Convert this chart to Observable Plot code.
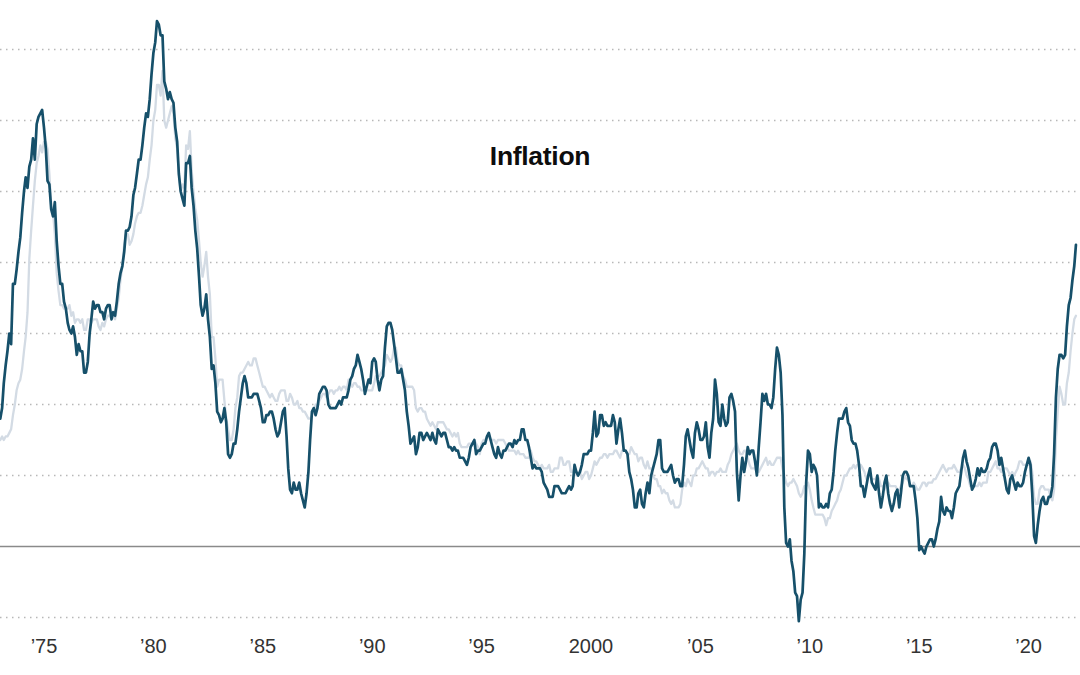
<!DOCTYPE html>
<html>
<head>
<meta charset="utf-8">
<script src="https://cdn.jsdelivr.net/npm/d3@7"></script>
<script src="https://cdn.jsdelivr.net/npm/@observablehq/plot@0.6"></script>
<style>
  html, body { margin: 0; padding: 0; background: #fff; }
  #wrap { position: relative; width: 1080px; height: 675px; overflow: hidden; }
  #title { position: absolute; left: 0; width: 1080px; top: 141px; text-align: center;
           font: 700 26.5px "Liberation Sans", Arial, sans-serif; color: #0d0d0d; letter-spacing: -0.3px; }
</style>
</head>
<body>
<div id="wrap">
  <div id="chart"></div>
  <div id="title">Inflation</div>
</div>
<script>
// Monthly year-over-year CPI change, Jan 1973 – Mar 2022 (percent)
const startYear = 1973;
const headline = [
  3.6, 3.9, 4.6, 5.1, 5.5, 6.0, 5.7, 7.4, 7.4, 7.8, 8.3, 8.7,      // 1973
  9.4, 10.0, 10.4, 10.1, 10.7, 10.9, 11.5, 10.9, 11.9, 12.1, 12.2, 12.3, // 1974
  11.8, 11.2, 10.3, 10.2, 9.5, 9.3, 9.7, 8.6, 7.9, 7.4, 7.4, 6.9,  // 1975
  6.7, 6.3, 6.1, 6.0, 6.2, 5.9, 5.4, 5.7, 5.5, 5.5, 4.9, 4.9,      // 1976
  5.2, 6.0, 6.4, 6.9, 6.7, 6.8, 6.8, 6.6, 6.6, 6.4, 6.7, 6.8,      // 1977
  6.8, 6.4, 6.6, 6.5, 6.9, 7.4, 7.7, 7.9, 8.3, 8.9, 8.9, 9.0,      // 1978
  9.3, 9.9, 10.1, 10.5, 10.9, 10.9, 11.3, 11.8, 12.2, 12.1, 12.6, 13.3, // 1979
  13.9, 14.2, 14.8, 14.7, 14.4, 14.4, 13.1, 12.9, 12.6, 12.8, 12.6, 12.5, // 1980
  11.8, 11.4, 10.5, 10.0, 9.8, 9.6, 10.8, 10.8, 11.0, 10.1, 9.6, 8.9, // 1981
  8.4, 7.6, 6.8, 6.5, 6.7, 7.1, 6.4, 5.9, 5.0, 5.1, 4.6, 3.8,      // 1982
  3.7, 3.5, 3.6, 3.9, 3.5, 2.6, 2.5, 2.6, 2.9, 2.9, 3.3, 3.8,      // 1983
  4.2, 4.6, 4.8, 4.6, 4.2, 4.2, 4.2, 4.3, 4.3, 4.3, 4.1, 3.9,      // 1984
  3.5, 3.5, 3.7, 3.7, 3.8, 3.8, 3.6, 3.3, 3.1, 3.2, 3.5, 3.8,      // 1985
  3.9, 3.1, 2.2, 1.6, 1.5, 1.8, 1.6, 1.6, 1.8, 1.5, 1.3, 1.1,      // 1986
  1.5, 2.1, 3.0, 3.8, 3.9, 3.7, 3.9, 4.3, 4.4, 4.5, 4.5, 4.4,      // 1987
  4.0, 3.9, 3.9, 3.9, 3.9, 4.0, 4.1, 4.0, 4.2, 4.2, 4.2, 4.4,      // 1988
  4.7, 4.8, 5.0, 5.1, 5.4, 5.2, 5.0, 4.7, 4.3, 4.5, 4.7, 4.6,      // 1989
  5.2, 5.3, 5.2, 4.7, 4.4, 4.7, 4.8, 5.6, 6.2, 6.3, 6.3, 6.1,      // 1990
  5.7, 5.3, 4.9, 4.9, 5.0, 4.7, 4.4, 3.8, 3.4, 2.9, 3.0, 3.1,      // 1991
  2.6, 2.8, 3.2, 3.2, 3.0, 3.1, 3.2, 3.1, 3.0, 3.2, 3.0, 2.9,      // 1992
  3.3, 3.2, 3.1, 3.2, 3.2, 3.0, 2.8, 2.8, 2.7, 2.8, 2.7, 2.7,      // 1993
  2.5, 2.5, 2.5, 2.4, 2.3, 2.5, 2.8, 2.9, 3.0, 2.6, 2.7, 2.7,      // 1994
  2.8, 2.9, 2.9, 3.1, 3.2, 3.0, 2.8, 2.6, 2.5, 2.8, 2.6, 2.5,      // 1995
  2.7, 2.7, 2.8, 2.9, 2.9, 2.8, 3.0, 2.9, 3.0, 3.0, 3.3, 3.3,      // 1996
  3.0, 3.0, 2.8, 2.5, 2.2, 2.3, 2.2, 2.2, 2.2, 2.1, 1.8, 1.7,      // 1997
  1.6, 1.4, 1.4, 1.4, 1.7, 1.7, 1.7, 1.6, 1.5, 1.5, 1.5, 1.6,      // 1998
  1.7, 1.6, 1.7, 2.3, 2.1, 2.0, 2.1, 2.3, 2.6, 2.6, 2.6, 2.7,      // 1999
  2.7, 3.2, 3.8, 3.1, 3.2, 3.7, 3.7, 3.4, 3.5, 3.4, 3.4, 3.4,      // 2000
  3.7, 3.5, 2.9, 3.3, 3.6, 3.2, 2.7, 2.7, 2.6, 2.1, 1.9, 1.6,      // 2001
  1.1, 1.1, 1.5, 1.6, 1.2, 1.1, 1.5, 1.8, 1.5, 2.0, 2.2, 2.4,      // 2002
  2.6, 3.0, 3.0, 2.2, 2.1, 2.1, 2.1, 2.2, 2.3, 2.0, 1.8, 1.9,      // 2003
  1.9, 1.7, 1.7, 2.3, 3.1, 3.3, 3.0, 2.7, 2.5, 3.2, 3.5, 3.3,      // 2004
  3.0, 3.0, 3.1, 3.5, 2.8, 2.5, 3.2, 3.6, 4.7, 4.3, 3.5, 3.4,      // 2005
  4.0, 3.6, 3.4, 3.5, 4.2, 4.3, 4.1, 3.8, 2.1, 1.3, 2.0, 2.5,      // 2006
  2.1, 2.4, 2.8, 2.6, 2.7, 2.7, 2.4, 2.0, 2.8, 3.5, 4.3, 4.1,      // 2007
  4.3, 4.0, 4.0, 3.9, 4.2, 5.0, 5.6, 5.4, 4.9, 3.7, 1.1, 0.1,      // 2008
  0.0, 0.2, -0.4, -0.7, -1.3, -1.4, -2.1, -1.5, -1.3, -0.2, 1.8, 2.7, // 2009
  2.6, 2.1, 2.3, 2.2, 2.0, 1.1, 1.2, 1.1, 1.1, 1.2, 1.1, 1.5,      // 2010
  1.6, 2.1, 2.7, 3.2, 3.6, 3.6, 3.6, 3.8, 3.9, 3.5, 3.4, 3.0,      // 2011
  2.9, 2.9, 2.7, 2.3, 1.7, 1.7, 1.4, 1.7, 2.0, 2.2, 1.8, 1.7,      // 2012
  1.6, 2.0, 1.5, 1.1, 1.4, 1.8, 2.0, 1.5, 1.2, 1.0, 1.2, 1.5,      // 2013
  1.6, 1.1, 1.5, 2.0, 2.1, 2.1, 2.0, 1.7, 1.7, 1.7, 1.3, 0.8,      // 2014
  -0.1, 0.0, -0.1, -0.2, 0.0, 0.1, 0.2, 0.2, 0.0, 0.2, 0.5, 0.7,  // 2015
  1.4, 1.0, 0.9, 1.1, 1.0, 1.0, 0.8, 1.1, 1.5, 1.6, 1.7, 2.1,      // 2016
  2.5, 2.7, 2.4, 2.2, 1.9, 1.6, 1.7, 1.9, 2.2, 2.0, 2.2, 2.1,      // 2017
  2.1, 2.2, 2.4, 2.5, 2.8, 2.9, 2.9, 2.7, 2.3, 2.5, 2.2, 1.9,      // 2018
  1.6, 1.5, 1.9, 2.0, 1.8, 1.6, 1.8, 1.7, 1.7, 1.8, 2.1, 2.3,      // 2019
  2.5, 2.3, 1.5, 0.3, 0.1, 0.6, 1.0, 1.3, 1.4, 1.2, 1.2, 1.4,      // 2020
  1.4, 1.7, 2.6, 4.2, 5.0, 5.4, 5.4, 5.3, 5.4, 6.2, 6.8, 7.0,      // 2021
  7.5, 7.9, 8.5                                                     // 2022
];
const core = [
  3.0, 3.1, 3.0, 3.1, 3.1, 3.2, 3.3, 3.7, 4.0, 4.4, 4.6, 4.7,      // 1973
  5.0, 5.5, 5.9, 6.6, 8.1, 8.9, 9.6, 10.3, 10.8, 11.0, 11.3, 11.1, // 1974
  11.4, 11.4, 11.2, 10.5, 9.6, 9.4, 8.8, 7.7, 7.2, 6.8, 6.8, 6.7,  // 1975
  6.7, 6.7, 6.8, 6.5, 6.6, 6.3, 6.4, 6.4, 6.3, 6.4, 6.1, 6.1,      // 1976
  6.4, 6.4, 6.3, 6.4, 6.4, 6.4, 6.2, 6.1, 6.3, 6.2, 6.4, 6.5,      // 1977
  6.5, 6.4, 6.5, 6.4, 6.7, 7.0, 7.5, 7.9, 8.5, 8.8, 8.8, 8.5,      // 1978
  8.6, 8.8, 9.1, 9.3, 9.4, 9.4, 9.6, 9.9, 10.2, 10.4, 10.9, 11.3,  // 1979
  12.0, 12.3, 13.0, 13.0, 12.7, 13.4, 12.0, 11.8, 12.0, 12.2, 12.4, 12.2, // 1980
  11.5, 11.2, 10.5, 10.0, 10.2, 10.1, 11.3, 11.2, 11.7, 10.6, 10.0, 9.5, // 1981
  9.2, 8.6, 8.0, 7.6, 7.9, 8.3, 7.6, 7.1, 5.9, 5.9, 5.3, 4.5,      // 1982
  4.7, 4.7, 4.7, 4.1, 3.6, 3.3, 3.0, 3.0, 3.3, 3.9, 4.2, 4.8,      // 1983
  4.9, 4.9, 5.0, 5.1, 5.2, 5.1, 5.1, 5.3, 5.3, 5.1, 4.9, 4.7,      // 1984
  4.5, 4.5, 4.4, 4.3, 4.2, 4.3, 4.2, 4.1, 4.1, 4.3, 4.4, 4.4,      // 1985
  4.4, 4.1, 4.1, 4.3, 4.2, 4.0, 4.0, 4.1, 3.9, 3.9, 3.8, 3.8,      // 1986
  3.7, 3.6, 3.6, 3.7, 3.8, 4.0, 3.9, 4.1, 4.2, 4.3, 4.3, 4.2,      // 1987
  4.3, 4.4, 4.4, 4.3, 4.4, 4.4, 4.5, 4.4, 4.5, 4.5, 4.4, 4.7,      // 1988
  4.6, 4.5, 4.6, 4.6, 4.5, 4.5, 4.4, 4.4, 4.4, 4.4, 4.4, 4.4,      // 1989
  4.4, 4.6, 4.8, 4.8, 4.8, 4.9, 5.0, 5.1, 5.4, 5.3, 5.2, 5.3,      // 1990
  5.6, 5.6, 5.2, 5.1, 5.1, 4.8, 4.7, 4.5, 4.5, 4.5, 4.5, 4.4,      // 1991
  3.9, 3.8, 3.9, 3.9, 3.8, 3.8, 3.6, 3.5, 3.4, 3.5, 3.4, 3.3,      // 1992
  3.5, 3.5, 3.5, 3.5, 3.4, 3.3, 3.3, 3.2, 3.1, 3.2, 3.1, 3.2,      // 1993
  2.9, 2.8, 2.8, 2.8, 2.8, 2.9, 2.9, 2.9, 3.0, 2.9, 2.8, 2.6,      // 1994
  2.9, 3.0, 3.0, 3.1, 3.1, 3.0, 3.0, 3.0, 2.9, 3.0, 3.0, 3.0,      // 1995
  3.0, 2.9, 2.8, 2.7, 2.7, 2.7, 2.7, 2.6, 2.7, 2.6, 2.6, 2.6,      // 1996
  2.5, 2.5, 2.5, 2.7, 2.5, 2.4, 2.4, 2.3, 2.2, 2.3, 2.2, 2.2,      // 1997
  2.2, 2.3, 2.1, 2.1, 2.2, 2.2, 2.2, 2.5, 2.5, 2.3, 2.3, 2.4,      // 1998
  2.4, 2.1, 2.1, 2.2, 2.0, 2.1, 2.1, 1.9, 2.0, 2.1, 2.1, 1.9,      // 1999
  2.0, 2.2, 2.4, 2.3, 2.4, 2.5, 2.5, 2.6, 2.6, 2.5, 2.6, 2.6,      // 2000
  2.6, 2.7, 2.7, 2.6, 2.5, 2.7, 2.7, 2.7, 2.6, 2.6, 2.8, 2.7,      // 2001
  2.6, 2.6, 2.4, 2.5, 2.5, 2.3, 2.2, 2.4, 2.2, 2.2, 2.0, 1.9,      // 2002
  1.9, 1.7, 1.7, 1.5, 1.6, 1.5, 1.5, 1.3, 1.2, 1.3, 1.1, 1.1,      // 2003
  1.1, 1.2, 1.6, 1.8, 1.7, 1.9, 1.8, 1.7, 2.0, 2.0, 2.2, 2.2,      // 2004
  2.3, 2.4, 2.3, 2.2, 2.2, 2.0, 2.1, 2.1, 2.0, 2.1, 2.1, 2.2,      // 2005
  2.1, 2.1, 2.1, 2.3, 2.4, 2.6, 2.7, 2.8, 2.9, 2.7, 2.6, 2.6,      // 2006
  2.7, 2.7, 2.5, 2.3, 2.2, 2.2, 2.2, 2.1, 2.1, 2.2, 2.3, 2.4,      // 2007
  2.5, 2.3, 2.4, 2.3, 2.3, 2.4, 2.5, 2.5, 2.5, 2.2, 2.0, 1.8,      // 2008
  1.7, 1.8, 1.8, 1.9, 1.8, 1.7, 1.5, 1.4, 1.5, 1.7, 1.7, 1.8,      // 2009
  1.6, 1.3, 1.1, 0.9, 0.9, 0.9, 0.9, 0.9, 0.8, 0.6, 0.8, 0.8,      // 2010
  1.0, 1.1, 1.2, 1.3, 1.5, 1.6, 1.8, 2.0, 2.0, 2.1, 2.2, 2.2,      // 2011
  2.3, 2.2, 2.3, 2.3, 2.3, 2.2, 2.1, 1.9, 2.0, 2.0, 1.9, 1.9,      // 2012
  1.9, 2.0, 1.9, 1.7, 1.7, 1.6, 1.7, 1.8, 1.7, 1.7, 1.7, 1.7,      // 2013
  1.6, 1.6, 1.7, 1.8, 2.0, 1.9, 1.9, 1.7, 1.7, 1.8, 1.7, 1.6,      // 2014
  1.6, 1.7, 1.8, 1.8, 1.7, 1.8, 1.8, 1.8, 1.9, 1.9, 2.0, 2.1,      // 2015
  2.2, 2.3, 2.2, 2.1, 2.2, 2.2, 2.2, 2.3, 2.2, 2.1, 2.1, 2.2,      // 2016
  2.3, 2.2, 2.0, 1.9, 1.7, 1.7, 1.7, 1.7, 1.7, 1.8, 1.7, 1.8,      // 2017
  1.8, 1.8, 2.1, 2.1, 2.2, 2.3, 2.4, 2.2, 2.2, 2.1, 2.2, 2.2,      // 2018
  2.2, 2.1, 2.0, 2.1, 2.0, 2.1, 2.2, 2.4, 2.4, 2.3, 2.3, 2.3,      // 2019
  2.3, 2.4, 2.1, 1.4, 1.2, 1.2, 1.6, 1.7, 1.7, 1.6, 1.6, 1.6,      // 2020
  1.4, 1.3, 1.6, 3.0, 3.8, 4.5, 4.3, 4.0, 4.0, 4.6, 4.9, 5.5,      // 2021
  6.0, 6.4, 6.5                                                     // 2022
];
const tickYears = [1975, 1980, 1985, 1990, 1995, 2000, 2005, 2010, 2015, 2020];
const tickLabels = ["’75", "’80", "’85", "’90", "’95", "2000", "’05", "’10", "’15", "’20"];
const gridValues = [-2, 2, 4, 6, 8, 10, 12, 14];
const zeroValue = [0];

const monthDate = i => new Date(Date.UTC(startYear + Math.floor(i / 12), i % 12, 1));
const headRows = headline.map((v, i) => ({date: monthDate(i), value: v}));
const coreRows = core.map((v, i) => ({date: monthDate(i), value: v}));
const tickDates = tickYears.map(y => new Date(Date.UTC(y, 0, 1)));
const labelByYear = new Map(tickYears.map((y, i) => [y, tickLabels[i]]));

const chart = Plot.plot({
  width: 1080,
  height: 675,
  marginTop: 0,
  marginRight: 0,
  marginBottom: 45,
  marginLeft: 0,
  style: {fontFamily: "'Liberation Sans', Arial, sans-serif", fontSize: "20px", color: "#333", background: "#fff"},
  x: {type: "utc", domain: [new Date(Date.UTC(1973, 0, 5)), new Date(Date.UTC(2022, 4, 16))], axis: null},
  y: {domain: [-2.366, 15.38], axis: null},
  marks: [
    Plot.ruleY(gridValues, {stroke: "#b8b8b8", strokeWidth: 1.3, strokeDasharray: "1.5,4.5"}),
    Plot.ruleY(zeroValue, {stroke: "#8a8a8a", strokeWidth: 1.3}),
    Plot.lineY(coreRows, {x: "date", y: "value", stroke: "#d3dbe4", strokeWidth: 2.3, clip: true}),
    Plot.lineY(headRows, {x: "date", y: "value", stroke: "#16506a", strokeWidth: 2.7, clip: true}),
    Plot.axisX(tickDates, {tickSize: 0, tickPadding: 8, tickFormat: d => labelByYear.get(d.getUTCFullYear()), fontSize: 20, fill: "#333"})
  ]
});
document.getElementById("chart").appendChild(chart);
</script>
</body>
</html>
